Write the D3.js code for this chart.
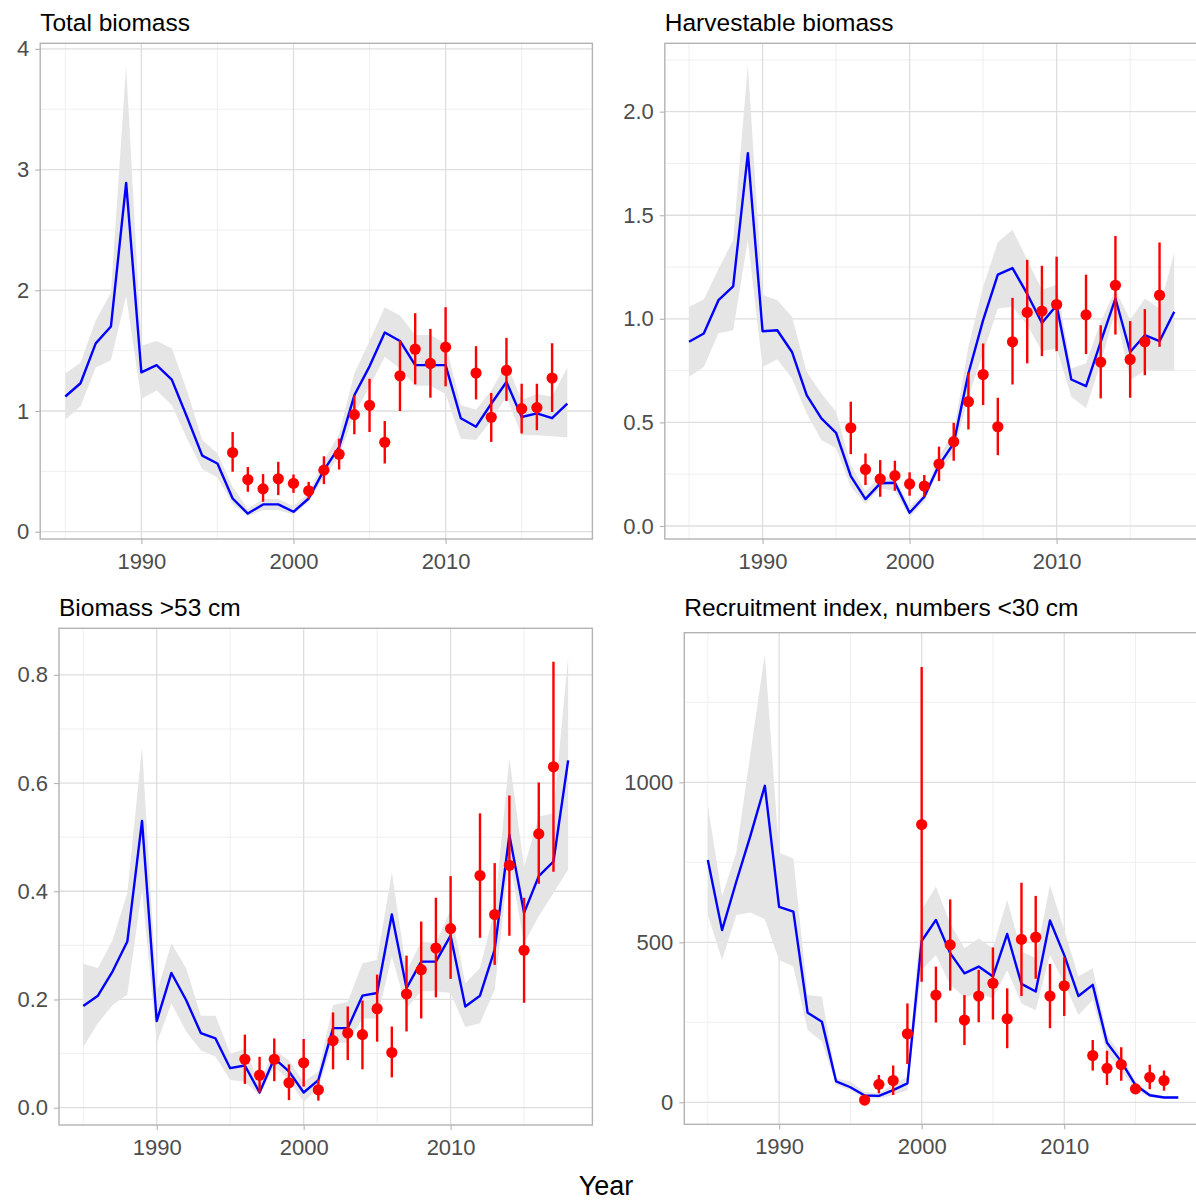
<!DOCTYPE html>
<html>
<head>
<meta charset="utf-8">
<script src="https://cdn.jsdelivr.net/npm/d3@7"></script>
<style>
  html, body { margin: 0; padding: 0; background: #fff; }
  svg { display: block; font-family: "Liberation Sans", Arial, sans-serif; }
</style>
</head>
<body>
<svg id="chart" width="1196" height="1202"></svg>
<script>
// ---------------- DATA ----------------
const years = [1985,1986,1987,1988,1989,1990,1991,1992,1993,1994,1995,1996,1997,1998,1999,2000,2001,2002,2003,2004,2005,2006,2007,2008,2009,2010,2011,2012,2013,2014,2015,2016,2017,2018];
const obsYears = [1996,1997,1998,1999,2000,2001,2002,2003,2004,2005,2006,2007,2008,2009,2010,2012,2013,2014,2015,2016,2017];

const xMajorTicks = [1990, 2000, 2010];
const xMinorTicks = [1985, 1995, 2005, 2015];

const panelTitles = ["Total biomass", "Harvestable biomass", "Biomass >53 cm", "Recruitment index, numbers <30 cm"];
const xAxisTitle = "Year";

// Total biomass
const totalFit = [1.12,1.23,1.56,1.70,2.89,1.32,1.38,1.26,0.95,0.63,0.565,0.275,0.15,0.226,0.226,0.165,0.275,0.51,0.70,1.13,1.37,1.65,1.58,1.38,1.38,1.38,0.94,0.87,1.06,1.24,0.95,0.98,0.94,1.06];
const totalLo  = [0.93,1.04,1.36,1.42,1.95,1.10,1.17,1.05,0.77,0.52,0.45,0.23,0.13,0.18,0.18,0.14,0.25,0.45,0.62,0.98,1.20,1.45,1.35,1.21,1.21,1.14,0.77,0.76,0.92,1.12,0.80,0.80,0.79,0.78];
const totalHi  = [1.31,1.40,1.75,1.98,3.86,1.54,1.58,1.52,1.17,0.76,0.65,0.37,0.19,0.27,0.27,0.21,0.32,0.59,0.81,1.31,1.58,1.86,1.79,1.63,1.63,1.56,1.05,1.01,1.17,1.39,1.09,1.14,1.12,1.36];
const totalObs   = [0.656,0.432,0.355,0.438,0.40,0.339,0.51,0.642,0.97,1.047,0.741,1.292,1.512,1.394,1.529,1.314,0.948,1.336,1.019,1.028,1.273];
const totalObsLo = [0.496,0.33,0.248,0.303,0.322,0.27,0.394,0.515,0.807,0.826,0.565,1.0,1.22,1.11,1.204,1.096,0.744,1.083,0.813,0.84,0.992];
const totalObsHi = [0.826,0.537,0.477,0.579,0.474,0.413,0.625,0.771,1.13,1.267,0.917,1.584,1.81,1.68,1.86,1.537,1.149,1.606,1.226,1.226,1.562];

// Harvestable biomass
const harvFit = [0.889,0.929,1.09,1.157,1.80,0.94,0.945,0.84,0.632,0.519,0.45,0.241,0.130,0.206,0.209,0.064,0.141,0.294,0.399,0.736,0.994,1.213,1.245,1.12,0.98,1.066,0.707,0.675,0.889,1.098,0.84,0.921,0.892,1.034];
const harvLo  = [0.72,0.768,0.93,0.945,1.38,0.768,0.805,0.712,0.543,0.415,0.375,0.19,0.106,0.182,0.169,0.045,0.117,0.27,0.35,0.624,0.833,1.05,1.058,0.97,0.844,0.857,0.624,0.568,0.785,1.04,0.704,0.752,0.749,0.749];
const harvHi  = [1.058,1.093,1.24,1.38,2.227,1.116,1.09,1.01,0.744,0.64,0.551,0.294,0.166,0.238,0.233,0.093,0.158,0.334,0.455,0.865,1.154,1.37,1.43,1.285,1.14,1.164,0.76,0.785,0.986,1.14,0.994,1.098,1.05,1.32];
const harvObs   = [0.474,0.273,0.227,0.243,0.203,0.193,0.299,0.407,0.60,0.731,0.479,0.889,1.031,1.037,1.069,1.019,0.791,1.162,0.804,0.889,1.114];
const harvObsLo = [0.347,0.198,0.141,0.17,0.146,0.141,0.217,0.315,0.466,0.584,0.342,0.683,0.785,0.82,0.844,0.83,0.616,0.924,0.619,0.728,0.865];
const harvObsHi = [0.60,0.35,0.318,0.315,0.259,0.246,0.383,0.498,0.741,0.881,0.619,1.101,1.285,1.256,1.30,1.213,0.969,1.40,0.989,1.047,1.369];

// Biomass >53 cm
const bigFit = [0.188,0.207,0.252,0.307,0.530,0.160,0.249,0.199,0.138,0.128,0.073,0.078,0.028,0.091,0.067,0.028,0.051,0.147,0.147,0.207,0.212,0.357,0.221,0.27,0.27,0.318,0.187,0.207,0.292,0.504,0.36,0.428,0.455,0.642];
const bigLo  = [0.112,0.156,0.19,0.209,0.403,0.119,0.193,0.141,0.106,0.094,0.051,0.048,0.023,0.076,0.051,0.011,0.036,0.12,0.12,0.165,0.165,0.28,0.184,0.215,0.215,0.212,0.149,0.156,0.218,0.46,0.304,0.354,0.397,0.44];
const bigHi  = [0.266,0.258,0.31,0.397,0.667,0.212,0.304,0.258,0.17,0.17,0.10,0.108,0.045,0.107,0.087,0.048,0.067,0.19,0.196,0.267,0.273,0.435,0.252,0.307,0.304,0.366,0.23,0.258,0.366,0.646,0.445,0.538,0.544,0.834];
const bigObs   = [0.0895,0.060,0.0895,0.046,0.083,0.033,0.124,0.138,0.135,0.183,0.102,0.21,0.255,0.295,0.331,0.429,0.357,0.448,0.291,0.506,0.630];
const bigObsLo = [0.044,0.028,0.049,0.014,0.039,0.013,0.071,0.088,0.071,0.122,0.056,0.141,0.165,0.204,0.238,0.314,0.264,0.318,0.194,0.414,0.436];
const bigObsHi = [0.135,0.094,0.128,0.08,0.127,0.052,0.176,0.187,0.198,0.246,0.15,0.281,0.344,0.388,0.428,0.544,0.452,0.577,0.388,0.601,0.824];

// Recruitment index, numbers <30 cm
const recFit = [757,538,690,835,989,611,596,280,252,65,47,21,20,38,59,504,570,466,403,424,393,526,370,346,568,460,332,367,186,127,54,22,15,15];
const recLo  = [585,445,585,593,572,445,424,226,190,54,38,12,12,23,38,413,460,367,328,341,325,413,309,288,460,372,273,320,153,101,38,16,11,11];
const recHi  = [927,644,781,1094,1400,780,762,335,330,75,65,33,28,56,80,601,674,559,481,512,481,632,471,450,679,538,393,419,210,148,65,28,20,20];
const recObs   = [7,56,68,214,868,335,492,257,332,372,261,509,516,332,364,146,106,118,42,78,68];
const recObsLo = [4,28,23,120,377,249,349,179,250,259,169,332,386,231,270,99,54,67,32,41,36];
const recObsHi = [11,85,115,309,1360,424,634,335,414,484,356,686,645,432,453,195,161,172,52,117,99];

// y-axis ticks per panel
const totalYMajor = [0,1,2,3,4];
const totalYMinor = [0.5,1.5,2.5,3.5];
const totalYLabels = ["0","1","2","3","4"];
const harvYMajor = [0,0.5,1,1.5,2];
const harvYMinor = [0.25,0.75,1.25,1.75,2.25];
const harvYLabels = ["0.0","0.5","1.0","1.5","2.0"];
const bigYMajor = [0,0.2,0.4,0.6,0.8];
const bigYMinor = [0.1,0.3,0.5,0.7];
const bigYLabels = ["0.0","0.2","0.4","0.6","0.8"];
const recYMajor = [0,500,1000];
const recYMinor = [250,750,1250];
const recYLabels = ["0","500","1000"];

// ---------------- LAYOUT ----------------
const panels = [
  { title: panelTitles[0], fit: totalFit, lo: totalLo, hi: totalHi, obs: totalObs, obsLo: totalObsLo, obsHi: totalObsHi,
    yMajor: totalYMajor, yMinor: totalYMinor, yLabels: totalYLabels,
    box: {l: 40.2, t: 43.3, r: 592.4, b: 539, titleY: 30.7}, xDom: [1983.35, 2019.65], yDom: [-0.0605, 4.046] },
  { title: panelTitles[1], fit: harvFit, lo: harvLo, hi: harvHi, obs: harvObs, obsLo: harvObsLo, obsHi: harvObsHi,
    yMajor: harvYMajor, yMinor: harvYMinor, yLabels: harvYLabels,
    box: {l: 664.8, t: 43.3, r: 1198.5, b: 539, titleY: 30.7}, xDom: [1983.35, 2019.65], yDom: [-0.0628, 2.330] },
  { title: panelTitles[2], fit: bigFit, lo: bigLo, hi: bigHi, obs: bigObs, obsLo: bigObsLo, obsHi: bigObsHi,
    yMajor: bigYMajor, yMinor: bigYMinor, yLabels: bigYLabels,
    box: {l: 59.0, t: 628.3, r: 592.4, b: 1125, titleY: 616}, xDom: [1983.35, 2019.65], yDom: [-0.032, 0.886] },
  { title: panelTitles[3], fit: recFit, lo: recLo, hi: recHi, obs: recObs, obsLo: recObsLo, obsHi: recObsHi,
    yMajor: recYMajor, yMinor: recYMinor, yLabels: recYLabels,
    box: {l: 684.3, t: 632.7, r: 1201.8, b: 1124.3, titleY: 616}, xDom: [1983.35, 2019.65], yDom: [-68.8, 1467.5] }
];

const svg = d3.select("#chart");
svg.append("rect").attr("width", 1196).attr("height", 1202).attr("fill", "#fff");

panels.forEach((p, i) => {
  const b = p.box;
  const x = d3.scaleLinear().domain(p.xDom).range([b.l, b.r]);
  const y = d3.scaleLinear().domain(p.yDom).range([b.b, b.t]);
  const g = svg.append("g");

  const clipId = "clip" + i;
  svg.append("clipPath").attr("id", clipId)
    .append("rect").attr("x", b.l).attr("y", b.t).attr("width", b.r - b.l).attr("height", b.b - b.t);

  const inner = g.append("g").attr("clip-path", `url(#${clipId})`);

  // minor grid
  inner.selectAll(".gxm").data(xMinorTicks).join("line")
    .attr("x1", d => x(d)).attr("x2", d => x(d)).attr("y1", b.t).attr("y2", b.b)
    .attr("stroke", "#EDEDED").attr("stroke-width", 0.9);
  inner.selectAll(".gym").data(p.yMinor).join("line")
    .attr("x1", b.l).attr("x2", b.r).attr("y1", d => y(d)).attr("y2", d => y(d))
    .attr("stroke", "#EDEDED").attr("stroke-width", 0.9);
  // major grid
  inner.selectAll(".gxM").data(xMajorTicks).join("line")
    .attr("x1", d => x(d)).attr("x2", d => x(d)).attr("y1", b.t).attr("y2", b.b)
    .attr("stroke", "#DEDEDE").attr("stroke-width", 1.3);
  inner.selectAll(".gyM").data(p.yMajor).join("line")
    .attr("x1", b.l).attr("x2", b.r).attr("y1", d => y(d)).attr("y2", d => y(d))
    .attr("stroke", "#DEDEDE").attr("stroke-width", 1.3);

  // ribbon
  const area = d3.area().x((d, k) => x(years[k])).y0((d, k) => y(p.lo[k])).y1((d, k) => y(p.hi[k]));
  inner.append("path").datum(p.fit).attr("d", area).attr("fill", "#E5E5E5");

  // fitted line
  const line = d3.line().x((d, k) => x(years[k])).y(d => y(d));
  inner.append("path").datum(p.fit).attr("d", line)
    .attr("fill", "none").attr("stroke", "#0000FF").attr("stroke-width", 2.4).attr("stroke-linejoin", "round");

  // error bars
  inner.selectAll(".eb").data(obsYears).join("line")
    .attr("x1", d => x(d)).attr("x2", d => x(d))
    .attr("y1", (d, k) => y(p.obsLo[k])).attr("y2", (d, k) => y(p.obsHi[k]))
    .attr("stroke", "#FF0000").attr("stroke-width", 2.4);
  // points
  inner.selectAll(".pt").data(obsYears).join("circle")
    .attr("cx", d => x(d)).attr("cy", (d, k) => y(p.obs[k])).attr("r", 5.6)
    .attr("fill", "#FF0000");

  // border
  g.append("rect").attr("x", b.l).attr("y", b.t).attr("width", b.r - b.l).attr("height", b.b - b.t)
    .attr("fill", "none").attr("stroke", "#B3B3B3").attr("stroke-width", 1.4);

  // axes
  const xAxis = d3.axisBottom(x).tickValues(xMajorTicks).tickFormat(d3.format("d")).tickSize(5).tickPadding(9);
  const ax = g.append("g").attr("transform", `translate(0,${b.b})`).call(xAxis);
  const yAxis = d3.axisLeft(y).tickValues(p.yMajor).tickFormat((d, k) => p.yLabels[k]).tickSize(5).tickPadding(6);
  const ay = g.append("g").attr("transform", `translate(${b.l},0)`).call(yAxis);
  [ax, ay].forEach(a => {
    a.select(".domain").remove();
    a.selectAll(".tick line").attr("stroke", "#B3B3B3").attr("stroke-width", 1.1);
    a.selectAll(".tick text").attr("fill", "#4D4D4D").style("font-size", "22px")
      .style("font-family", "'Liberation Sans', Arial, sans-serif");
  });

  // title
  g.append("text").attr("x", b.l).attr("y", b.titleY)
    .text(p.title).attr("fill", "#000").style("font-size", "24.5px");
});

svg.append("text").attr("x", 606).attr("y", 1195).attr("text-anchor", "middle")
  .text(xAxisTitle).attr("fill", "#000").style("font-size", "27px");
</script>
</body>
</html>
